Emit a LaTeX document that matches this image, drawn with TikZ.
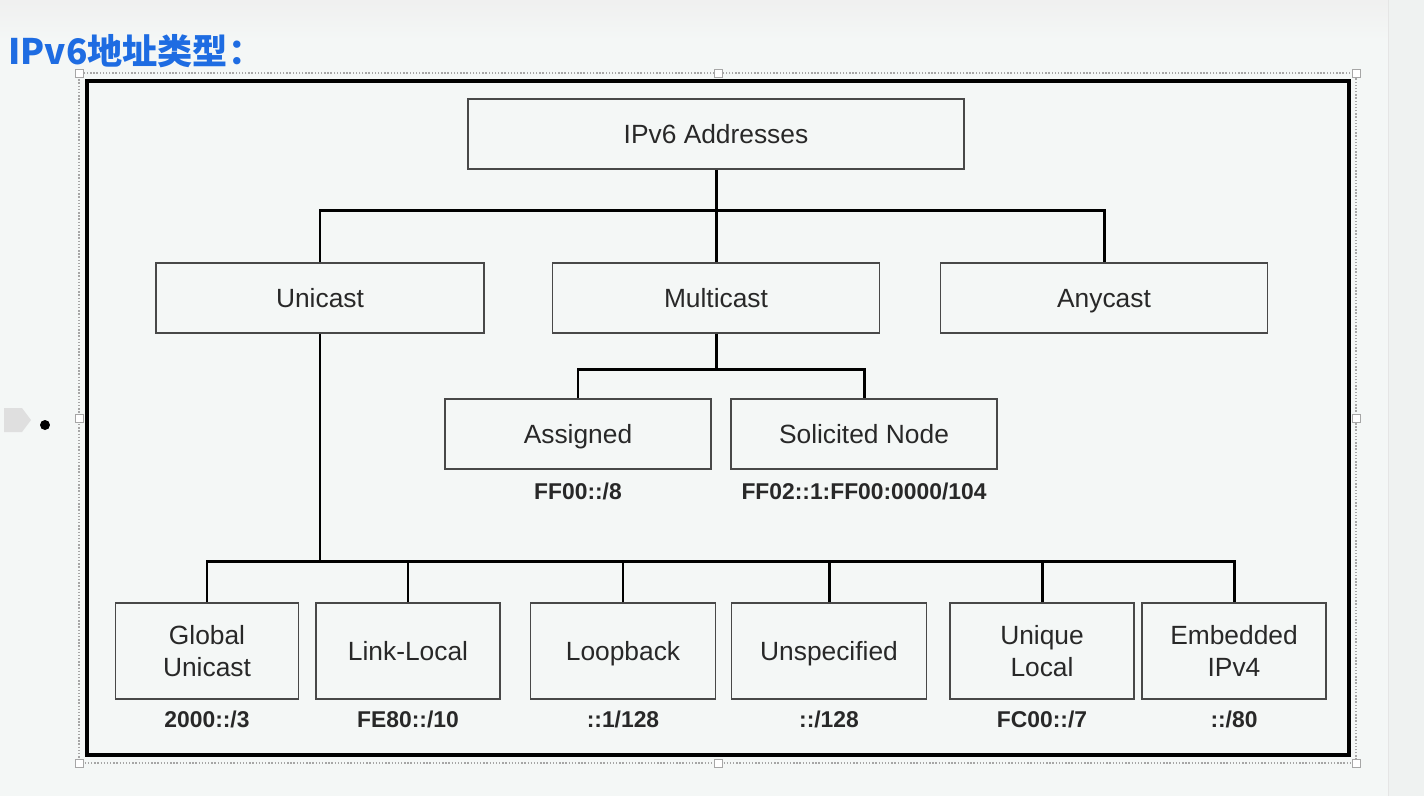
\documentclass[tikz,border=0pt]{standalone}
\usepackage{fontspec}
\setmainfont{Liberation Sans}
\newfontfamily\cjkfont{Noto Sans CJK SC}
\usepackage{tikz}
\usetikzlibrary{positioning, calc}
\definecolor{titleblue}{RGB}{30, 108, 226}
\definecolor{slidebg}{RGB}{244, 247, 246}
\definecolor{boxgray}{RGB}{72, 72, 72}
\definecolor{textgray}{RGB}{40, 40, 40}

\begin{document}
\begin{tikzpicture}[x=0.02cm, y=-0.02cm,
  boxbase/.style={draw=boxgray, line width=1pt, text=textgray, align=center,
    font=\fontsize{15}{18}\selectfont},
  addr/.style={boxbase, minimum height=1.4cm, text height=10.7pt, text depth=0pt},
  leaf/.style={boxbase, minimum height=1.92cm, minimum width=3.68cm},
  leafone/.style={leaf, text height=10.7pt, text depth=0pt},
  pfxlabel/.style={inner sep=0pt, text=textgray, font=\fontsize{13}{15}\selectfont\bfseries},
  link/.style={line width=1.7pt, black},
  handle/.style={draw=gray!70, fill=white, line width=0.5pt}]

  % slide background
  \useasboundingbox (0,0) rectangle (1424,796);
  \fill[slidebg] (0,0) rectangle (1424,796);
  \shade[top color=gray!12, bottom color=slidebg] (0,0) rectangle (1424,40);
  \fill[slidebg!96!gray] (1388,0) rectangle (1424,796);
  \draw[gray!20] (1388,0) -- (1388,796);

  % title and bullet
  \node[anchor=west, inner sep=0pt, text=titleblue, font=\cjkfont\bfseries\fontsize{20}{24}\selectfont] (title) at (8,51) {IPv6地址类型：};
  \fill[gray!25] (4,408) -- (22,408) -- (31,420) -- (22,432) -- (4,432) -- cycle;
  \fill (45,425) circle (0.1cm);

  % selection frame
  \draw[gray!70, densely dotted, line width=0.8pt] (79,73) rectangle (1356,763);
  \draw[line width=1.9pt] (87,81) rectangle (1349,755);
  \foreach \hx/\hy in {79/73, 718/73, 1356/73, 79/418, 1356/418, 79/763, 718/763, 1356/763}
    \draw[handle] (\hx-4,\hy-4) rectangle (\hx+4,\hy+4);

  % top levels
  \node[addr, minimum width=9.92cm] (root) at (716,134) {IPv6 Addresses};
  \node[addr, minimum width=6.56cm] (uni) at (320,298) {Unicast};
  \node[addr, minimum width=6.54cm] (multi) at (716,298) {Multicast};
  \node[addr, minimum width=6.54cm] (any) at (1104,298) {Anycast};

  % multicast children
  \node[addr, minimum width=5.32cm] (asg) at (578,434) {Assigned};
  \node[addr, minimum width=5.32cm] (sol) at (864,434) {Solicited Node};
  \node[pfxlabel, below=0.26cm of asg] (asgpfx) {FF00::/8};
  \node[pfxlabel, below=0.26cm of sol] (solpfx) {FF02::1:FF00:0000/104};

  % unicast children
  \node[leaf, minimum width=3.66cm] (gu) at (207,651) {Global\\Unicast};
  \node[leafone] (ll) at (408,651) {Link-Local};
  \node[leafone, minimum width=3.7cm] (lb) at (623,651) {Loopback};
  \node[leafone, minimum width=3.9cm] (us) at (829,651) {Unspecified};
  \node[leaf] (ul) at (1042,651) {Unique\\Local};
  \node[leaf] (emb) at (1234,651) {Embedded\\IPv4};
  \node[pfxlabel, below=0.22cm of gu] (gupfx) {2000::/3};
  \node[pfxlabel, below=0.22cm of ll] (llpfx) {FE80::/10};
  \node[pfxlabel, below=0.22cm of lb] (lbpfx) {::1/128};
  \node[pfxlabel, below=0.22cm of us] (uspfx) {::/128};
  \node[pfxlabel, below=0.22cm of ul] (ulpfx) {FC00::/7};
  \node[pfxlabel, below=0.22cm of emb] (embpfx) {::/80};

  % connectors
  \coordinate (topbus) at (716,210);
  \coordinate (mbus) at (716,369);
  \coordinate (ubus) at (320,561);
  \draw[link] (root.south) -- (topbus);
  \draw[link] (uni.north) |- (topbus) -| (any.north);
  \draw[link] (multi.north) -- (topbus);
  \draw[link] (multi.south) -- (mbus);
  \draw[link] (asg.north) |- (mbus) -| (sol.north);
  \draw[link] (uni.south) -- (ubus);
  \draw[link] (gu.north) |- (ubus) -| (emb.north);
  \foreach \n in {ll, lb, us, ul}
    \draw[link] (\n.north) -- (\n.north |- ubus);
\end{tikzpicture}
\end{document}
